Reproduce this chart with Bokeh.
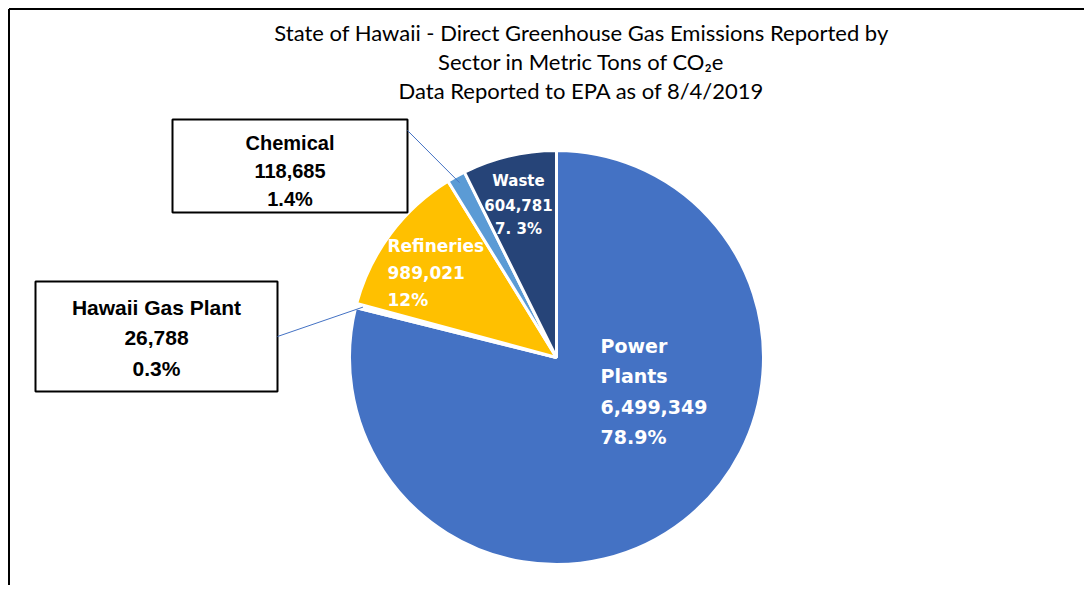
import math
from bokeh.plotting import figure
from bokeh.models import Range1d, ColumnDataSource
from bokeh.core.properties import value
from bokeh.embed import file_html
from bokeh.resources import INLINE

# ---- data ----
sectors = ["Power Plants", "Hawaii Gas Plant", "Refineries", "Chemical", "Waste"]
emissions = [6499349, 26788, 989021, 118685, 604781]
pct_labels = ["78.9%", "0.3%", "12%", "1.4%", "7. 3%"]
colors = ["#4472C4", "#FFFFFF", "#FFC000", "#5B9BD5", "#264478"]
title_lines = ["State of Hawaii - Direct Greenhouse Gas Emissions Reported by",
               "Sector in Metric Tons of CO\u2082e",
               "Data Reported to EPA as of 8/4/2019"]

W, H = 1084, 585
p = figure(width=W, height=H, output_backend="svg", toolbar_location=None,
           x_range=Range1d(0, W), y_range=Range1d(-H, 0),
           min_border=0, outline_line_color=None)
p.axis.visible = False
p.grid.visible = False
p.background_fill_color = "white"

# reference-pixel helpers
def X(px): return px
def Y(py): return -py

cx, cy, R = 556, 357, 207
total = sum(emissions)
fr = [v / total for v in emissions]
cum = [0.0]
for f in fr:
    cum.append(cum[-1] + f)
starts = [math.pi / 2 - 2 * math.pi * cum[i] for i in range(len(fr))]
ends = [math.pi / 2 - 2 * math.pi * cum[i + 1] for i in range(len(fr))]
mids = [(s + e) / 2 for s, e in zip(starts, ends)]

src = ColumnDataSource(dict(x=[X(cx)] * len(fr), y=[Y(cy)] * len(fr),
                            start=starts, end=ends, color=colors))
p.wedge(x="x", y="y", radius=R, radius_units="screen", start_angle="start",
        end_angle="end", direction="clock", fill_color="color",
        line_color="white", line_width=3, source=src)

# frame border (left & top)
p.segment(x0=[X(8.5), X(8.5)], y0=[Y(8.5), Y(8.5)], x1=[X(8.5), X(1092)], y1=[Y(593), Y(8.5)],
          line_color="black", line_width=2)

# title
for i, (t, yy) in enumerate(zip(title_lines, [32, 61, 90])):
    p.text(x=[X(581)], y=[Y(yy)], text=[t], text_align="center", text_baseline="middle",
           text_font=value("Lato"), text_font_size="22px", text_color="#000000")

def fmt(v):
    return f"{v:,}"

def lines(i):
    name = sectors[i]
    parts = ["Power", "Plants"] if name == "Power Plants" else [name]
    return parts + [fmt(emissions[i]), pct_labels[i]]

def draw_lines(ls, x, y0, dy, size, color, font, align):
    for k, t in enumerate(ls):
        p.text(x=[X(x)], y=[Y(y0 + k * dy)], text=[t], text_align=align,
               text_baseline="middle", text_font=value(font),
               text_font_size=size, text_font_style="bold", text_color=color)

# in-slice labels
draw_lines(lines(0), 600, 345, 30.5, "19px", "white", "DejaVu Sans", "left")
draw_lines(lines(2), 387, 245, 27, "17px", "white", "DejaVu Sans", "left")
draw_lines(lines(4), 518, 180, 24, "15px", "white", "DejaVu Sans", "center")

# callout boxes
def box(x0, y0, x1, y1):
    p.quad(left=[X(x0)], right=[X(x1)], top=[Y(y0)], bottom=[Y(y1)],
           fill_color="white", line_color="black", line_width=2)

box(172, 119, 407, 212)
box(35, 281, 277, 391)

# leader lines to slice mid-points
for i, (sx, sy) in [(3, (407, 130)), (1, (277, 336))]:
    ex = cx + 200 * math.cos(mids[i])
    ey = cy - 200 * math.sin(mids[i])
    p.segment(x0=[X(sx)], y0=[Y(sy)], x1=[X(ex)], y1=[Y(ey)],
              line_color="#4472C4", line_width=1)

draw_lines(lines(3), 289.5, 142, 28, "20px", "black", "Liberation Sans", "center")
draw_lines(lines(1), 156, 307, 30.5, "21px", "black", "Liberation Sans", "center")

open("out.html", "w").write(file_html(p, INLINE))
